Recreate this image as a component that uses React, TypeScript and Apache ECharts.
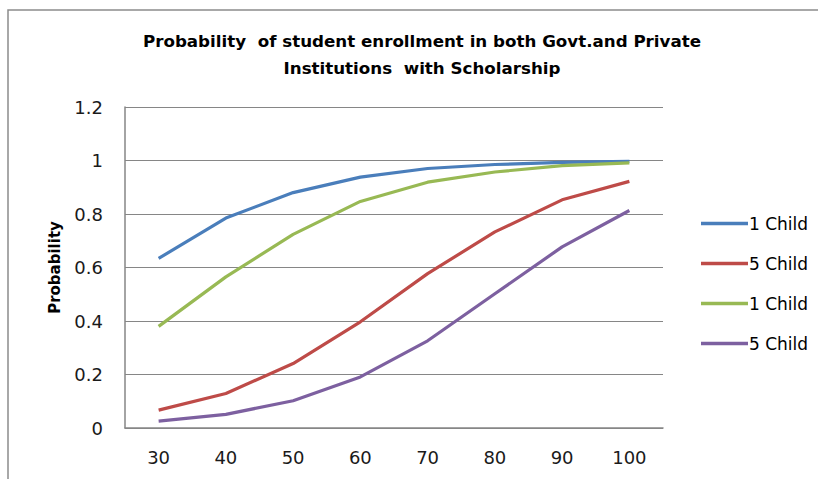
import React, { useEffect, useRef } from "react";
import * as echarts from "echarts";

const categories = ["30", "40", "50", "60", "70", "80", "90", "100"];
const seriesNames = ["1 Child", "5 Child", "1 Child", "5 Child"];
const blueValues = [0.634, 0.785, 0.88, 0.938, 0.97, 0.985, 0.993, 0.997];
const redValues = [0.067, 0.129, 0.241, 0.397, 0.577, 0.733, 0.853, 0.922];
const greenValues = [0.38, 0.565, 0.724, 0.847, 0.919, 0.957, 0.981, 0.991];
const purpleValues = [0.026, 0.051, 0.102, 0.191, 0.326, 0.502, 0.677, 0.813];
const colors = ["#4A7EBB", "#BE4B48", "#98B954", "#7D60A0"];

const FONT = "'DejaVu Sans', sans-serif";

// Duplicate legend names are kept distinct with zero-width suffixes.
const legendName = (i: number) => `${seriesNames[i]}${"\u200b".repeat(i)}`;

export default function App() {
  const ref = useRef<HTMLDivElement>(null);

  useEffect(() => {
    if (!ref.current) return;
    const chart = echarts.init(ref.current, undefined, { renderer: "svg" });
    const data = [blueValues, redValues, greenValues, purpleValues];

    chart.setOption({
      animation: false,
      backgroundColor: "#ffffff",
      graphic: [
        {
          type: "rect",
          shape: { x: 8, y: 10, width: 830, height: 500 },
          style: { fill: "none", stroke: "#8c8c8c", lineWidth: 1.5 },
          silent: true,
          z: 0,
        },
        {
          type: "text",
          x: 422,
          y: 54,
          style: {
            text: "Probability  of student enrollment in both Govt.and Private\nInstitutions  with Scholarship",
            font: `bold 16.7px ${FONT}`,
            fill: "#000000",
            align: "center",
            verticalAlign: "middle",
            lineHeight: 27,
          },
        },
      ],
      grid: { left: 125, right: 155, top: 107, bottom: 51 },
      legend: {
        orient: "vertical",
        left: 696,
        top: 210,
        icon: "rect",
        itemWidth: 47,
        itemHeight: 3.5,
        itemGap: 23,
        textStyle: { fontFamily: FONT, fontSize: 17, color: "#000000", padding: [0, 0, 0, -4] },
        data: seriesNames.map((_, i) => ({ name: legendName(i) })),
      },
      xAxis: {
        type: "category",
        data: categories,
        boundaryGap: true,
        axisLine: { lineStyle: { color: "#868686", width: 1.5 } },
        axisTick: { show: false },
        axisLabel: { fontFamily: FONT, fontSize: 18, color: "#1a1a1a", margin: 20 },
      },
      yAxis: {
        type: "value",
        min: 0,
        max: 1.2,
        interval: 0.2,
        name: "Probability",
        nameLocation: "middle",
        nameGap: 63,
        nameTextStyle: { fontFamily: FONT, fontSize: 15, fontWeight: "bold", color: "#000000" },
        axisLine: { show: true, lineStyle: { color: "#868686", width: 1.5 } },
        axisTick: { show: false },
        splitLine: { lineStyle: { color: "#868686", width: 1.2 } },
        axisLabel: {
          fontFamily: FONT,
          fontSize: 18,
          color: "#1a1a1a",
          margin: 22,
          formatter: (v: number) => String(+v.toFixed(1)),
        },
      },
      series: data.map((vals, i) => ({
        name: legendName(i),
        type: "line",
        data: vals,
        symbol: "none",
        lineStyle: { width: 3.2, color: colors[i] },
        itemStyle: { color: colors[i] },
      })),
    });

    return () => chart.dispose();
  }, []);

  return (
    <div
      ref={ref}
      style={{ position: "fixed", left: 0, top: 0, width: 818, height: 479 }}
    />
  );
}
